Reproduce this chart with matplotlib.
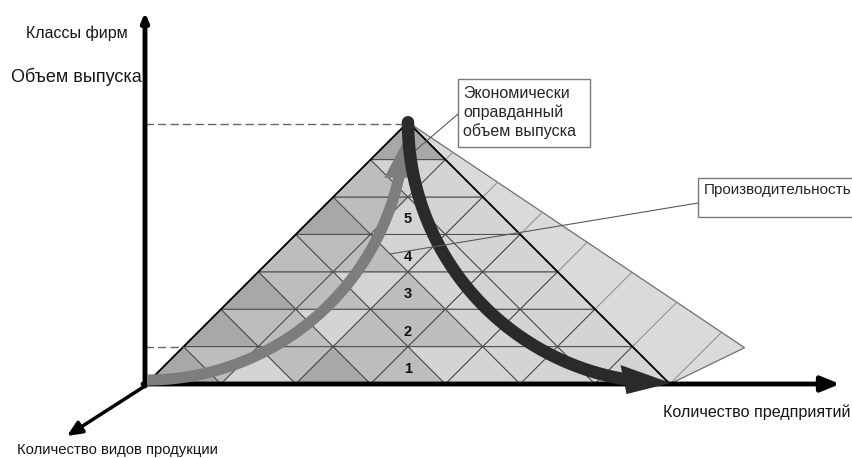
import numpy as np
import matplotlib
matplotlib.use("Agg")
import matplotlib.pyplot as plt
from matplotlib.patches import Polygon, Rectangle

plt.rcParams['font.family'] = ['Liberation Sans', 'DejaVu Sans']

# pyramid: 7 rows of small triangles, firm classes 1..5 in the middle column
n_rows = 7
class_labels = ['1', '2', '3', '4', '5']
# shade code for each small triangle, row by row from the bottom, left to right
# (d = dark, m = medium, l = light)
row_shades = [
    "dmlmdmmllllll",
    "dmmlmmmllll",
    "dmmlmllll",
    "mmmllll",
    "dmlll",
    "mll",
    "d",
]
shade_colors = {'d': '#a8a8a8', 'm': '#bdbdbd', 'l': '#d4d4d4'}

y_title = 'Классы фирм'
y_label = 'Объем выпуска'
x_label = 'Количество предприятий'
z_label = 'Количество видов продукции'
box_top = ['Экономически', 'оправданный', 'объем выпуска']
box_right = 'Производительность'

# placement of the lattice on the canvas (pixels)
x0, y0, cell = 408, 384, 37.4


def px(X, Y):
    return x0 + cell * np.asarray(X), y0 - cell * np.asarray(Y)


fig = plt.figure(figsize=(8.53, 4.58), dpi=100)
ax = fig.add_axes([0, 0, 1, 1])
ax.set_xlim(0, 853)
ax.set_ylim(458, 0)
ax.axis('off')

# side face (shadow) of the pyramid
far = (9, 0.97)
sx, sy = px([0, n_rows, far[0]], [n_rows, 0, far[1]])
ax.add_patch(Polygon(np.c_[sx, sy], closed=True, fc='#dadada', ec='#707070', lw=0.9, zorder=1))
# lattice lines continued on the side face
k = (n_rows - far[1]) / far[0]
for c in range(-5, 9, 2):
    Xa = (n_rows + c) / 2
    Ya = n_rows - Xa
    Xb = (n_rows + c) / (1 + k)
    Yb = Xb - c
    lx, ly = px([Xa, Xb], [Ya, Yb])
    ax.plot(lx, ly, color='#8a8a8a', lw=0.7, zorder=2)

# small triangles of the front face
for r, codes in enumerate(row_shades):
    left = -(n_rows - r)
    for i, ch in enumerate(codes):
        b = left + i
        if i % 2 == 0:
            tri = [(b, r), (b + 2, r), (b + 1, r + 1)]
        else:
            tri = [(b, r + 1), (b + 2, r + 1), (b + 1, r)]
        tx, ty = px([p[0] for p in tri], [p[1] for p in tri])
        ax.add_patch(Polygon(np.c_[tx, ty], closed=True, fc=shade_colors[ch],
                             ec='#4a4a4a', lw=0.7, zorder=3))
ox, oy = px([-n_rows, n_rows, 0], [0, 0, n_rows])
ax.add_patch(Polygon(np.c_[ox, oy], closed=True, fc='none', ec='black', lw=1.3, zorder=4))

# class numbers
for j, lab in enumerate(class_labels, start=1):
    lx, ly = px(0, j - 0.6)
    ax.text(lx, ly, lab, ha='center', va='center', fontsize=10.5,
            fontweight='bold', color='#111111', zorder=6)

# axes of the diagram
ax_x, ax_y = 145, y0
ax.annotate('', xy=(ax_x, 12), xytext=(ax_x, ax_y + 2),
            arrowprops=dict(arrowstyle='-|>,head_length=0.5,head_width=0.2',
                            lw=3.5, color='black', shrinkA=0, shrinkB=0), zorder=8)
ax.annotate('', xy=(840, ax_y), xytext=(ax_x - 2, ax_y),
            arrowprops=dict(arrowstyle='-|>,head_length=1.1,head_width=0.45',
                            lw=3.5, color='black', shrinkA=0, shrinkB=0), zorder=8)
ax.annotate('', xy=(67, 436), xytext=(ax_x, ax_y + 2),
            arrowprops=dict(arrowstyle='-|>,head_length=0.9,head_width=0.4',
                            lw=2.5, color='black', shrinkA=0, shrinkB=0), zorder=8)

# dashed guides to the vertical axis
apx, apy = px(0, n_rows)
ax.plot([ax_x, apx], [apy + 2, apy + 2], ls=(0, (6, 3)), color='#666666', lw=1.0, zorder=5)
l1x, l1y = px(1 - n_rows, 1)
ax.plot([ax_x, l1x], [l1y, l1y], ls=(0, (6, 3)), color='#666666', lw=1.0, zorder=5)

# grey arrow: quarter circle from the origin up to the apex
r = (ax_y - 4) - apy
t = np.linspace(np.pi / 2, np.radians(12), 80)
gx = ax_x + 2 + r * np.cos(t)
gy = apy + r * np.sin(t)
ax.plot(gx, gy, color='#7d7d7d', lw=8, solid_capstyle='butt', zorder=9)
tip_t = np.radians(4)
tip = (ax_x + 2 + r * np.cos(tip_t), apy + r * np.sin(tip_t))
base = (gx[-1], gy[-1])
ax.add_patch(Polygon([tip, (base[0] - 15, base[1] + 2), (base[0] + 13, base[1] + 2)],
                     closed=True, fc='#7d7d7d', ec='none', zorder=9))

# dark arrow: quarter circle from the apex down to the base corner
rc = (ax_y - 1) - apy
cxd, cyd = apx + rc, apy
t = np.linspace(0, np.radians(80), 80)
dx = cxd - rc * np.cos(t)
dy = cyd + rc * np.sin(t)
ax.plot(dx, dy, color='#2a2a2a', lw=9, solid_capstyle='round', zorder=10)
tipd = (cxd + 2, cyd + rc)
based = (dx[-1], dy[-1])
ax.add_patch(Polygon([tipd, (based[0] - 3, based[1] - 14), (based[0] + 3, based[1] + 15)],
                     closed=True, fc='#2a2a2a', ec='none', zorder=10))

# text boxes with pointers
ax.add_patch(Rectangle((458, 79), 132, 68, fc='white', ec='#7a7a7a', lw=1.0, zorder=11))
for i, line in enumerate(box_top):
    ax.text(463, 93 + 19 * i, line, ha='left', va='center', fontsize=11.5,
            color='#262626', zorder=12)
ax.plot([458, 416], [114, 150], color='#5a5a5a', lw=0.8, zorder=11)

ax.add_patch(Rectangle((698, 178), 170, 39, fc='white', ec='#7a7a7a', lw=1.0, zorder=11))
ax.text(704, 190, box_right, ha='left', va='center', fontsize=11, color='#262626', zorder=12)
ax.plot([698, 390], [203, 254], color='#5a5a5a', lw=0.8, zorder=11)

# labels
ax.text(77, 33, y_title, ha='center', va='center', fontsize=11.5, color='#161616')
ax.text(76, 77, y_label, ha='center', va='center', fontsize=13, color='#161616')
ax.text(663, 412, x_label, ha='left', va='center', fontsize=11.6, color='#161616')
ax.text(17, 450, z_label, ha='left', va='center', fontsize=10.7, color='#161616')

fig.savefig('out.png', dpi=100)
